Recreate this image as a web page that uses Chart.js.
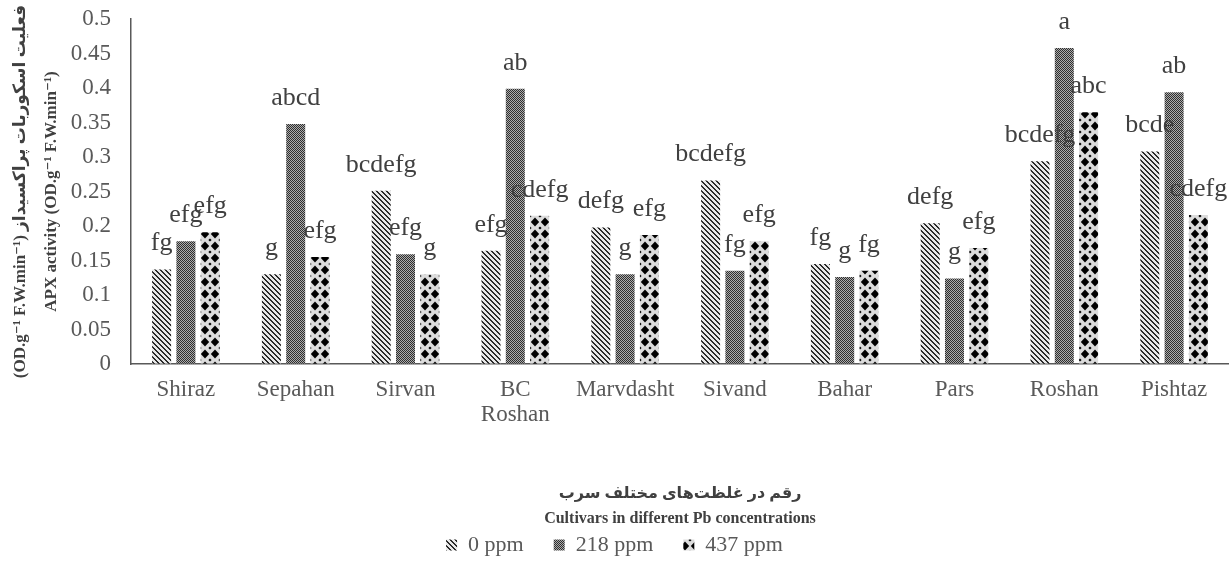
<!DOCTYPE html>
<html>
<head>
<meta charset="utf-8">
<script src="https://cdn.jsdelivr.net/npm/chart.js@4.4.1/dist/chart.umd.min.js"></script>
<style>
  html, body { margin: 0; padding: 0; background: #ffffff; }
  #chart { display: block; }
</style>
</head>
<body>
<canvas id="chart" width="1229" height="571"></canvas>
<script>
// Cultivars (x categories)
const cultivars = ['Shiraz', 'Sepahan', 'Sirvan', ['BC', 'Roshan'], 'Marvdasht', 'Sivand', 'Bahar', 'Pars', 'Roshan', 'Pishtaz'];

// Pb treatments (series names)
const seriesNames = ['0 ppm', '218 ppm', '437 ppm'];

// APX activity per cultivar for each Pb level
const apx0   = [0.137, 0.130, 0.251, 0.164, 0.198, 0.266, 0.145, 0.204, 0.294, 0.308];
const apx218 = [0.178, 0.348, 0.159, 0.399, 0.130, 0.135, 0.126, 0.124, 0.458, 0.394];
const apx437 = [0.191, 0.155, 0.130, 0.215, 0.187, 0.178, 0.135, 0.168, 0.365, 0.216];

// Mean-separation letters above each bar
const letters0   = ['fg', 'g', 'bcdefg', 'efg', 'defg', 'bcdefg', 'fg', 'defg', 'bcdefg', 'bcde'];
const letters218 = ['efg', 'abcd', 'efg', 'ab', 'g', 'fg', 'g', 'g', 'a', 'ab'];
const letters437 = ['efg', 'efg', 'g', 'cdefg', 'efg', 'efg', 'fg', 'efg', 'abc', 'cdefg'];

// Y axis range and tick step
const yMin = 0;
const yMax = 0.5;
const yStep = 0.05;

// Axis titles
const yTitleLines = ['(OD.g⁻¹ F.W.min⁻¹) فعلیت اسکوربات پراکسیداز', 'APX activity (OD.g⁻¹ F.W.min⁻¹)'];
const xTitleLines = ['رقم در غلظت‌های مختلف سرب', 'Cultivars in different Pb concentrations'];

const SERIF = "'Liberation Serif', 'Times New Roman', 'DejaVu Serif', 'DejaVu Sans', serif";

// ---- fill patterns ----
function makeTile(w, h, paint) {
  const c = document.createElement('canvas');
  c.width = w; c.height = h;
  const g = c.getContext('2d');
  paint(g, w, h);
  return document.getElementById('chart').getContext('2d').createPattern(c, 'repeat');
}

// diagonal hatch: dark "\" strokes on light grey
const hatchFill = makeTile(5, 5, (g, w, h) => {
  g.fillStyle = '#e8e8e8';
  g.fillRect(0, 0, w, h);
  g.fillStyle = '#2a2a2a';
  for (let i = 0; i < 5; i++) {
    g.fillRect(i, i, 1, 1);
    g.fillRect((i + 1) % 5, i, 1, 1);
  }
});

// fine checkerboard: dark grey
const checkFill = makeTile(2, 2, (g) => {
  g.fillStyle = '#acacac';
  g.fillRect(0, 0, 2, 2);
  g.fillStyle = '#2e2e2e';
  g.fillRect(0, 0, 1, 1);
  g.fillRect(1, 1, 1, 1);
});

// black diamonds on light grey
const diamondFill = makeTile(10, 12, (g, w, h) => {
  g.fillStyle = '#dcdcdc';
  g.fillRect(0, 0, w, h);
  g.fillStyle = '#000000';
  const diamond = (cx, cy, rx, ry) => {
    g.beginPath();
    g.moveTo(cx, cy - ry);
    g.lineTo(cx + rx, cy);
    g.lineTo(cx, cy + ry);
    g.lineTo(cx - rx, cy);
    g.closePath();
    g.fill();
  };
  diamond(5, 6, 4.2, 4.6);
  diamond(0, 0, 1.6, 1.6);
  diamond(10, 0, 1.6, 1.6);
  diamond(0, 12, 1.6, 1.6);
  diamond(10, 12, 1.6, 1.6);
});

// letters drawn above each bar
const letterSets = [letters0, letters218, letters437];
const barLetters = {
  id: 'barLetters',
  afterDatasetsDraw(chart) {
    const ctx = chart.ctx;
    ctx.save();
    ctx.font = '26px ' + SERIF;
    ctx.fillStyle = '#404040';
    ctx.textAlign = 'center';
    ctx.textBaseline = 'alphabetic';
    chart.data.datasets.forEach((ds, di) => {
      const meta = chart.getDatasetMeta(di);
      meta.data.forEach((bar, i) => {
        ctx.fillText(letterSets[di][i], bar.x, bar.y - 19);
      });
    });
    ctx.restore();
  }
};

const fills = [hatchFill, checkFill, diamondFill];
const seriesData = [apx0, apx218, apx437];

new Chart(document.getElementById('chart'), {
  type: 'bar',
  data: {
    labels: cultivars,
    datasets: seriesNames.map((name, k) => ({
      label: name,
      data: seriesData[k],
      backgroundColor: fills[k],
      borderColor: 'rgba(0,0,0,0)',
      borderWidth: 0,
      categoryPercentage: 0.664,
      barPercentage: 0.782
    }))
  },
  options: {
    responsive: false,
    animation: false,
    devicePixelRatio: 1,
    layout: { padding: { top: 19, right: 0, bottom: 5, left: 0 } },
    plugins: {
      tooltip: { enabled: false },
      legend: {
        position: 'bottom',
        align: 'center',
        labels: {
          boxWidth: 11,
          boxHeight: 11,
          padding: 30,
          color: '#595959',
          font: { family: SERIF, size: 22 }
        }
      }
    },
    scales: {
      x: {
        grid: { display: false, drawTicks: false },
        border: { display: true, color: '#595959', width: 1.5 },
        ticks: {
          color: '#595959',
          padding: 13,
          maxRotation: 0,
          autoSkip: false,
          font: { family: SERIF, size: 23, lineHeight: 1.1 }
        },
        title: {
          display: true,
          text: xTitleLines,
          color: '#404040',
          font: { family: SERIF, size: 16, weight: 'bold', lineHeight: 1.5625 },
          padding: { top: 40.9, bottom: -27.5 }
        }
      },
      y: {
        min: yMin,
        max: yMax,
        grid: {
          display: true,
          drawOnChartArea: false,
          drawTicks: true,
          tickLength: 17,
          tickColor: 'rgba(0,0,0,0)'
        },
        border: { display: true, color: '#595959', width: 1.5 },
        ticks: {
          stepSize: yStep,
          color: '#595959',
          padding: 3,
          font: { family: SERIF, size: 23, lineHeight: 1.1 },
          callback: (v) => String(+v.toFixed(2))
        },
        title: {
          display: true,
          text: yTitleLines,
          color: '#404040',
          font: { family: SERIF, size: 17, weight: 'bold', lineHeight: 1.82 },
          padding: { top: 5.5, bottom: 0 }
        },
        afterFit: (scale) => { scale.width = 131; }
      }
    }
  },
  plugins: [barLetters]
});
</script>
</body>
</html>
